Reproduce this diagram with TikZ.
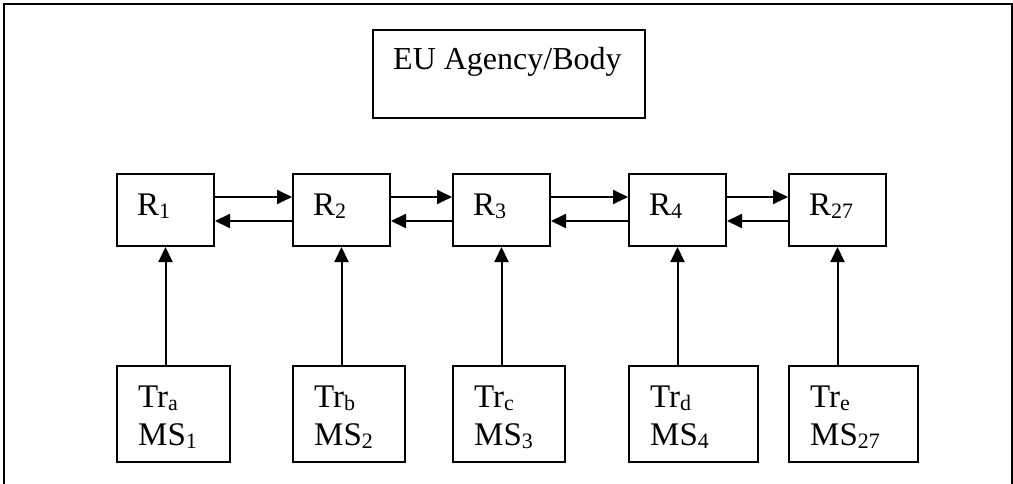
\documentclass[tikz,border=0pt]{standalone}
\usepackage{fontspec}
\setmainfont{Liberation Serif}
\usetikzlibrary{arrows.meta,calc}

% lowered, smaller index after a symbol
\newcommand\dn[1]{\raisebox{-3pt}{\fontsize{22}{22}\selectfont #1}}

\begin{document}
\begin{tikzpicture}[x=1pt,y=-1pt,
  box/.style={draw,line width=2pt,inner sep=0pt,anchor=north west},
  lbl/.style={inner sep=0pt,anchor=base west,font=\fontsize{33}{38}\selectfont},
  link/.style={line width=2pt,-{Triangle[length=15pt,width=14pt]}}]
\useasboundingbox (0,0) rectangle (1013,484);

% outer frame, open at the bottom
\draw[line width=2pt] (3.5,484) -- (3.5,4) -- (1011.5,4) -- (1011.5,484);

% agency box
\node[box,minimum width=272pt,minimum height=88pt] (eu) at (372,29) {};
\node[lbl,font=\fontsize{32}{36}\selectfont] (eut) at ($(eu.north west)+(21,41)$) {EU Agency/Body};

% row of R boxes
\foreach \n/\x/\s in {1/116/1, 2/292/2, 3/452/3, 4/628/4, 5/788/27} {
  \node[box,minimum width=97pt,minimum height=72pt] (r\n) at (\x,173) {};
  \node[lbl] (rt\n) at ($(r\n.north west)+(21,42)$) {R\dn{\s}};
}

% row of Tr/MS boxes (label anchored on its last line)
\foreach \n/\x/\w/\t/\s in {1/116/113/a/1, 2/292/112/b/2, 3/452/112/c/3, 4/628/129/d/4, 5/788/129/e/27} {
  \node[box,minimum width=\w pt,minimum height=96pt] (tr\n) at (\x,365) {};
  \node[lbl,align=left] (trt\n) at ($(tr\n.north west)+(22,80)$) {Tr\dn{\t}\\MS\dn{\s}};
}

% links between neighbouring R boxes
\foreach \a/\b in {1/2, 2/3, 3/4, 4/5} {
  \draw[link] ($(r\a.north east)+(0,24)$) -- ($(r\b.north west)+(0,24)$);
  \draw[link] ($(r\b.north west)+(0,48)$) -- ($(r\a.north east)+(0,48)$);
}

% each Tr/MS box feeds the R box above it
\foreach \n in {1,...,5} {
  \draw[link] (r\n.south |- tr\n.north) -- (r\n.south);
}
\end{tikzpicture}
\end{document}
